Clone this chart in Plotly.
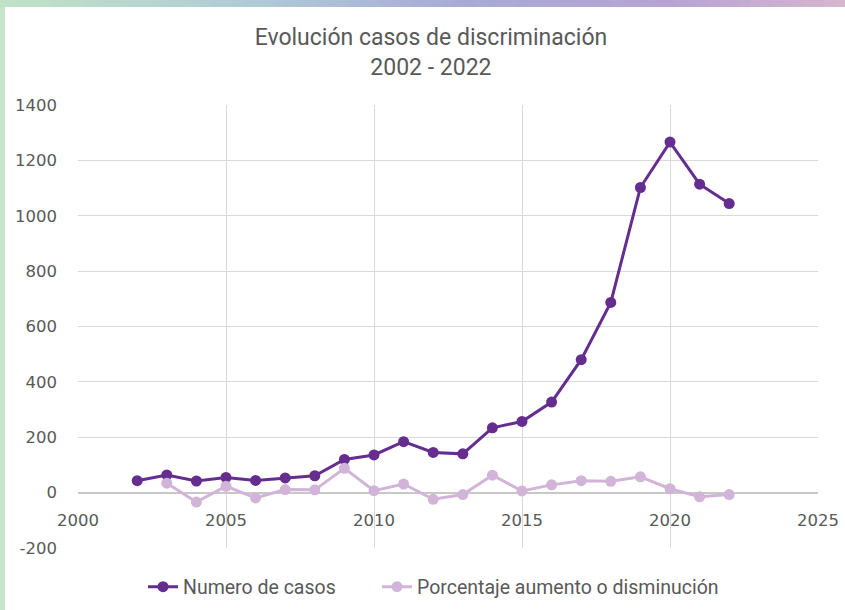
import plotly.graph_objects as go

years = list(range(2002, 2023))
casos = [43, 64, 42, 55, 44, 53, 61, 120, 136, 184, 145, 140, 234, 257, 327, 480,
         687, 1102, 1266, 1114, 1044]
porc_years = list(range(2003, 2023))
porcentaje = [34, -34, 23, -19, 11, 10, 88, 7, 31, -24, -7, 63, 6, 28, 43, 41, 57,
              14, -15, -7]
y_ticks = [-200, 0, 200, 400, 600, 800, 1000, 1200, 1400]
y_ticktext = ["-200", "0", "200", "400", "600", "800", "1000", "1200", "1400"]

DARK = "#652d90"
LIGHT = "#d2b4d9"
GRID = "#d9d9d9"
TXT = "#595959"

W, H = 845, 610
ML, MR, MT, MB = 78, 27, 105, 62
PW, PH = W - ML - MR, H - MT - MB


def px2x(px):
    return (px - ML) / PW


def px2y(py):
    return (H - MB - py) / PH


fig = go.Figure()
fig.add_trace(go.Scatter(
    x=years, y=casos, name="Numero de casos", mode="lines+markers",
    line=dict(color=DARK, width=3), marker=dict(color=DARK, size=11),
    legend="legend",
))
fig.add_trace(go.Scatter(
    x=porc_years, y=porcentaje, name="Porcentaje aumento o disminución",
    mode="lines+markers",
    line=dict(color=LIGHT, width=3), marker=dict(color=LIGHT, size=11),
    legend="legend2",
))

# decorative frame: green strip on the left, gradient band on top
stops = [(0.0, (192, 226, 198)), (0.3, (176, 202, 214)), (0.55, (168, 170, 214)),
         (0.8, (184, 164, 212)), (1.0, (212, 182, 206))]


def grad(t):
    for (a, ca), (b, cb) in zip(stops, stops[1:]):
        if a <= t <= b:
            f = (t - a) / (b - a)
            c = [round(ca[i] + (cb[i] - ca[i]) * f) for i in range(3)]
            return "rgb(%d,%d,%d)" % tuple(c)
    return "rgb(212,182,206)"


shapes = [dict(type="rect", xref="paper", yref="paper", layer="below",
               x0=px2x(0), x1=px2x(5), y0=px2y(H), y1=px2y(0),
               fillcolor="rgb(198,228,202)", line=dict(width=0))]
n = 80
for i in range(n):
    shapes.append(dict(type="rect", xref="paper", yref="paper", layer="below",
                       x0=px2x(W * i / n), x1=px2x(W * (i + 1) / n + 1),
                       y0=px2y(7), y1=px2y(0),
                       fillcolor=grad(i / (n - 1)), line=dict(width=0)))

tickfont = dict(size=16.5, family="DejaVu Sans, Liberation Sans", color=TXT)
legfont = dict(size=19.5, color=TXT, family="Roboto, Liberation Sans")

fig.update_layout(
    width=W, height=H,
    margin=dict(l=ML, r=MR, t=MT, b=MB, autoexpand=False),
    paper_bgcolor="white", plot_bgcolor="white",
    font=dict(family="Liberation Sans, Arial, sans-serif", color=TXT, size=17),
    title=dict(text="Evolución casos de discriminación<br>2002 - 2022",
               x=0.51, xanchor="center", yref="container", y=0.926, yanchor="top",
               font=dict(size=23, color=TXT, family="Roboto, Liberation Sans")),
    showlegend=True,
    legend=dict(orientation="h", xref="container", x=(148 - 5) / W, xanchor="left",
                yref="container", y=1 - 587 / H, yanchor="middle",
                font=legfont, itemwidth=30, bgcolor="rgba(0,0,0,0)"),
    legend2=dict(orientation="h", xref="container", x=(382 - 5) / W, xanchor="left",
                 yref="container", y=1 - 587 / H, yanchor="middle",
                 font=legfont, itemwidth=30, bgcolor="rgba(0,0,0,0)"),
    xaxis=dict(range=[2000, 2025], dtick=5, tick0=2000, showgrid=True,
               gridcolor=GRID, gridwidth=1.3, zeroline=False, showline=False,
               anchor="free", position=200 / 1600, ticklabelstandoff=16,
               ticks="", tickfont=tickfont, automargin=False),
    yaxis=dict(range=[-200, 1400], tickvals=y_ticks, ticktext=y_ticktext,
               showgrid=True, gridcolor=GRID,
               gridwidth=1.3, zeroline=True, zerolinecolor="#c8c8c8",
               zerolinewidth=1.5, showline=False, ticks="",
               ticklabelstandoff=20, tickfont=tickfont, automargin=False),
    shapes=shapes,
)

fig.write_html("out.html", config={"displayModeBar": False},
               post_script="document.body.style.margin='0';")
